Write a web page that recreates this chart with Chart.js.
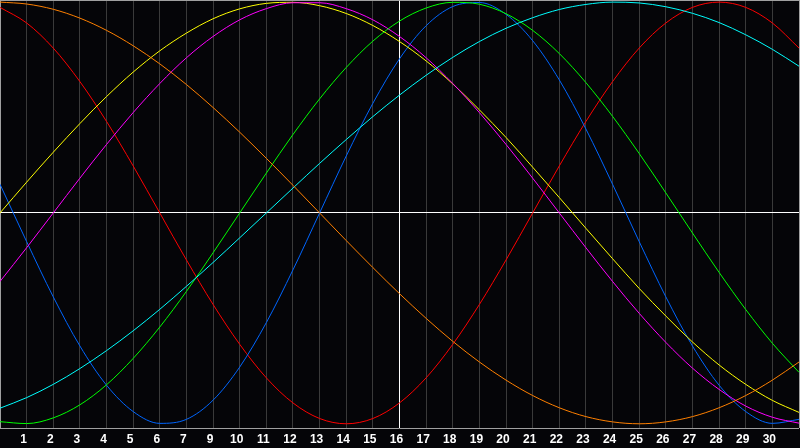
<!DOCTYPE html>
<html>
<head>
<meta charset="utf-8">
<script src="https://cdn.jsdelivr.net/npm/chart.js@4/dist/chart.umd.min.js"></script>
<style>
  html, body { margin: 0; padding: 0; background: #050508; }
  canvas { display: block; }
</style>
</head>
<body>
<canvas id="meuGrafico" width="800" height="448"></canvas>
<script>
// posicao de cada amostra (dias) e rotulos do eixo x (o dia 8 nao aparece)
const dias = [0, 1, 2, 3, 4, 5, 6, 7, 8, 9, 10, 11, 12, 13, 14, 15, 16, 17, 18, 19, 20, 21, 22, 23, 24, 25, 26, 27, 28, 29, 30];
const rotulosDias = ['1', '2', '3', '4', '5', '6', '7', '9', '10', '11', '12', '13', '14', '15', '16', '17', '18', '19', '20', '21', '22', '23', '24', '25', '26', '27', '28', '29', '30'];

const fisico = [13.6, -13.6, -39.8, -63.1, -81.7, -94.2, -99.8, -97.9, -88.8, -73.1, -52.0, -27.0, 0, 27.0, 52.0, 73.1, 88.8, 97.9, 99.8, 94.2, 81.7, 63.1, 39.8, 13.6, -13.6, -39.8, -63.1, -81.7, -94.2, -99.8, -97.9];
const emocional = [97.5, 90.1, 78.2, 62.3, 43.4, 22.3, 0, -22.3, -43.4, -62.3, -78.2, -90.1, -97.5, -100, -97.5, -90.1, -78.2, -62.3, -43.4, -22.3, 0, 22.3, 43.4, 62.3, 78.2, 90.1, 97.5, 100, 97.5, 90.1, 78.2];
const intelectual = [-99.0, -99.9, -97.2, -91.0, -81.5, -69.0, -54.1, -37.2, -18.9, 0, 18.9, 37.2, 54.1, 69.0, 81.5, 91.0, 97.2, 99.9, 99.0, 94.5, 86.6, 75.6, 61.8, 45.8, 28.2, 9.5, -9.5, -28.2, -45.8, -61.8, -75.6];
const intuitivo = [-32.5, -16.5, 0, 16.5, 32.5, 47.6, 61.4, 73.6, 83.7, 91.6, 96.9, 99.7, 99.7, 96.9, 91.6, 83.7, 73.6, 61.4, 47.6, 32.5, 16.5, 0, -16.5, -32.5, -47.6, -61.4, -73.6, -83.7, -91.6, -96.9, -99.7];
const estetico = [0, 14.6, 28.8, 42.4, 55.2, 66.8, 76.9, 85.3, 92.1, 96.8, 99.4, 99.9, 98.3, 94.6, 88.9, 81.3, 72.1, 61.2, 48.9, 35.8, 21.7, 7.3, -7.3, -21.7, -35.8, -48.9, -61.2, -72.1, -81.3, -88.9, -94.6];
const consciencia = [100, 99.1, 96.6, 92.4, 86.6, 79.3, 70.7, 60.9, 50.0, 38.3, 25.9, 13.1, 0, -13.1, -25.9, -38.3, -50.0, -60.9, -70.7, -79.3, -86.6, -92.4, -96.6, -99.1, -100, -99.1, -96.6, -92.4, -86.6, -79.3, -70.7];
const espiritual = [-92.6, -87.6, -81.3, -73.8, -65.3, -55.9, -45.7, -34.8, -23.5, -11.8, 0, 11.8, 23.5, 34.8, 45.7, 55.9, 65.3, 73.8, 81.3, 87.6, 92.6, 96.5, 98.9, 100, 99.6, 97.8, 94.7, 90.3, 84.5, 77.6, 69.6];

function serie(nome, valores, cor) {
  return {
    label: nome,
    data: dias.map((d, i) => ({ x: d, y: valores[i] })),
    borderColor: cor,
    borderWidth: 1,
    pointRadius: 0,
    cubicInterpolationMode: 'monotone',
    fill: false,
  };
}

function criarGrafico() {
  const canvas = document.getElementById('meuGrafico');
  let contexto = canvas.getContext('2d');

  new Chart(contexto, {
    type: 'line',
    data: {
      datasets: [
        serie('Consciência', consciencia, '#ff8000'),
        serie('Espiritual', espiritual, '#00ffff'),
        serie('Intelectual', intelectual, '#00ff00'),
        serie('Intuitivo', intuitivo, '#ff00ff'),
        serie('Estético', estetico, '#ffff00'),
        serie('Físico', fisico, '#0066ff'),
        serie('Emocional', emocional, '#ff0000'),
      ],
    },
    options: {
      responsive: false,
      devicePixelRatio: 1,
      animation: false,
      layout: { padding: { left: 0, right: 1, top: 0, bottom: 0 } },
      elements: { line: { capBezierPoints: false } },
      plugins: {
        legend: { display: false },
        tooltip: { enabled: false },
      },
      scales: {
        x: {
          type: 'linear',
          min: 0,
          max: 30,
          border: { display: false },
          grid: {
            drawTicks: false,
            lineWidth: 1,
            color: (ctx) => {
              let v = ctx.tick ? ctx.tick.value : -1;
              if (v === 15) return '#ffffff';
              if (v === 0 || v === 30) return '#a0a0a0';
              return '#3a3a3a';
            },
          },
          ticks: {
            stepSize: 1,
            autoSkip: false,
            maxRotation: 0,
            padding: 4,
            labelOffset: -3,
            color: '#ffffff',
            font: { family: 'Liberation Sans', size: 12, weight: 'bold' },
            callback: (valor) => (valor >= 1 && valor <= 29 ? rotulosDias[valor - 1] : ''),
          },
          afterFit: (escala) => {
            escala.height = 20;
            // sem folga lateral: a area do grafico vai de borda a borda
            escala.paddingLeft = 0;
            escala.paddingRight = 0;
          },
        },
        y: {
          min: -102,
          max: 101,
          border: { display: false },
          grid: {
            drawTicks: false,
            color: (ctx) => (ctx.tick && ctx.tick.value === 0 ? '#ffffff' : '#a0a0a0'),
          },
          ticks: { display: false },
          afterBuildTicks: (escala) => {
            escala.ticks = [{ value: -102 }, { value: 0 }, { value: 101 }];
          },
          afterFit: (escala) => {
            escala.width = 0;
          },
        },
      },
    },
  });
}

document.addEventListener('DOMContentLoaded', criarGrafico);
</script>
</body>
</html>
